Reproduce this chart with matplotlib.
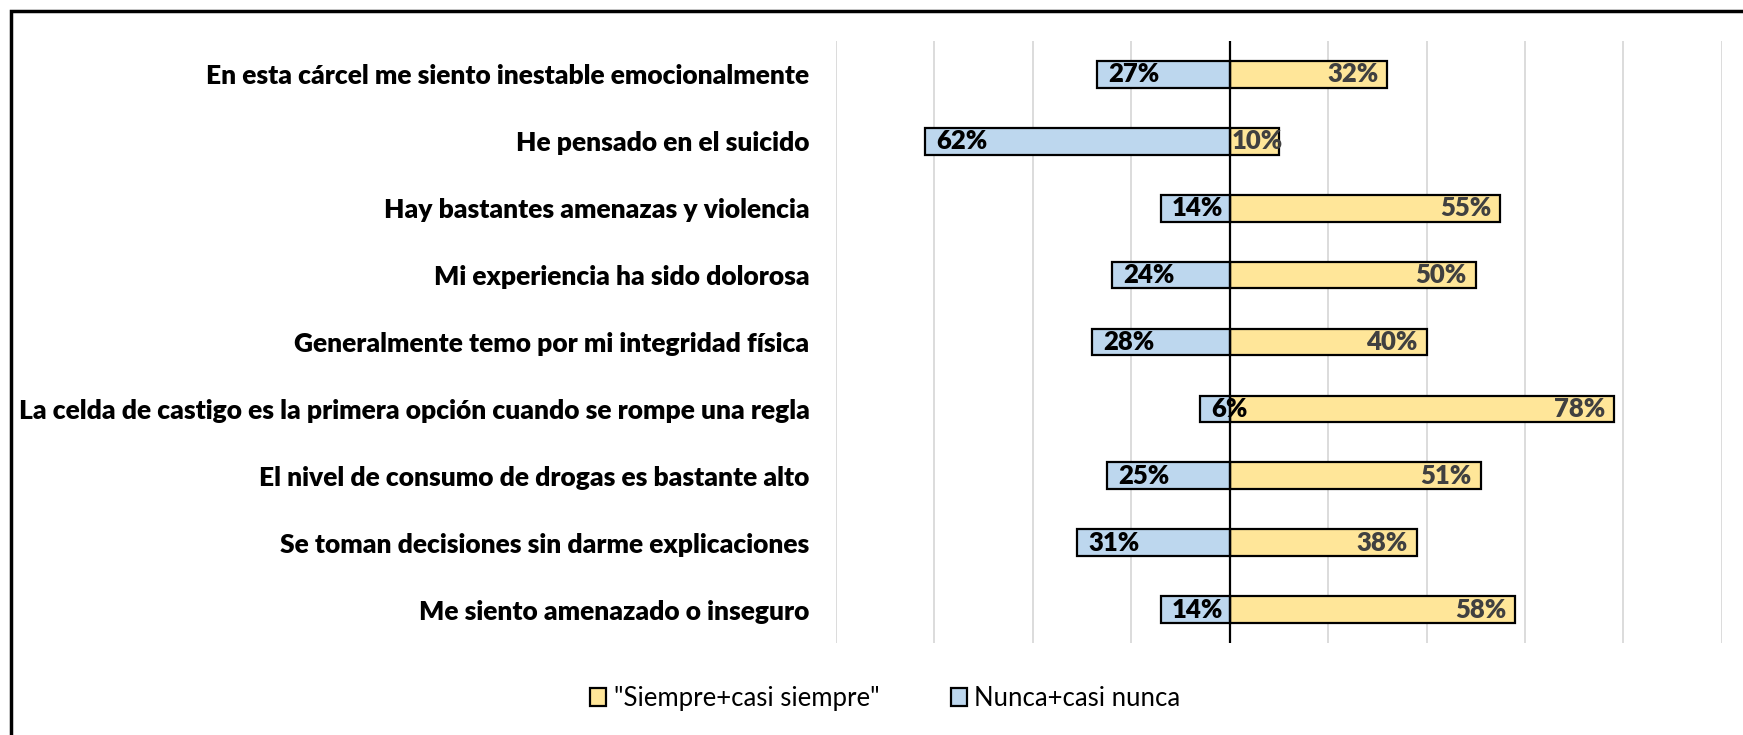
import matplotlib.pyplot as plt
import matplotlib.patches as mpatches
import numpy as np

categories = [
    "En esta cárcel me siento inestable emocionalmente",
    "He pensado en el suicido",
    "Hay bastantes amenazas y violencia",
    "Mi experiencia ha sido dolorosa",
    "Generalmente temo por mi integridad física",
    "La celda de castigo es la primera opción cuando se rompe una regla",
    "El nivel de consumo de drogas es bastante alto",
    "Se toman decisiones sin darme explicaciones",
    "Me siento amenazado o inseguro",
]
nunca = [27, 62, 14, 24, 28, 6, 25, 31, 14]
siempre = [32, 10, 55, 50, 40, 78, 51, 38, 58]
label_siempre = '"Siempre+casi siempre"'
label_nunca = "Nunca+casi nunca"

plt.rcParams['font.family'] = ['Lato', 'DejaVu Sans']

fig = plt.figure(figsize=(17.43, 7.35), dpi=100)
ax = fig.add_axes([0.4796, 0.1252, 0.5083, 0.819])

y = np.arange(len(categories))
blue = "#BDD7EE"
yellow = "#FFE699"

b_si = ax.barh(y, siempre, height=0.4, color=yellow, edgecolor="black", linewidth=1.6,
               label=label_siempre, zorder=3)
b_nu = ax.barh(y, [-v for v in nunca], height=0.4, color=blue, edgecolor="black",
               linewidth=1.6, label=label_nunca, zorder=3)

# data labels, inside end like excel
for yi, v in zip(y, nunca):
    ax.text(-v + 2.3, yi, f"{v}%", ha="left", va="center", fontsize=18.5,
            fontweight="heavy", color="black", zorder=5)
for yi, v in zip(y, siempre):
    if v < 15:
        ax.text(0.4, yi, f"{v}%", ha="left", va="center", fontsize=18.5,
                fontweight="heavy", color="#404040", zorder=5)
    else:
        ax.text(v - 1.8, yi, f"{v}%", ha="right", va="center", fontsize=18.5,
                fontweight="heavy", color="#404040", zorder=5)

ax.axvline(0, color="black", linewidth=1.6, zorder=4)
ax.set_xlim(-80, 100)
ax.set_ylim(len(categories) - 0.5, -0.5)
ax.set_xticks(np.arange(-80, 101, 20))
ax.set_xticklabels([])
ax.grid(axis="x", color="#D9D9D9", linewidth=1.3, zorder=0)
ax.set_yticks(y)
ax.set_yticklabels(categories, fontsize=19, fontweight="heavy")
ax.tick_params(axis="both", length=0)
ax.tick_params(axis="y", pad=19)
for s in ax.spines.values():
    s.set_visible(False)

fig.legend(handles=[b_si, b_nu], loc="center", bbox_to_anchor=(0.508, 0.049), ncol=2,
           frameon=False, fontsize=18.5, handlelength=0.6, handleheight=0.7,
           handletextpad=0.3, columnspacing=2.8)

# outer chart frame (runs off the right/bottom edge)
frame = mpatches.Rectangle((11 / 1743, -0.05), 1.1, 1 - 11 / 735 + 0.05,
                           transform=fig.transFigure, fill=False,
                           edgecolor="black", linewidth=2.5)
fig.patches.append(frame)

fig.savefig("out.png", dpi=100)
